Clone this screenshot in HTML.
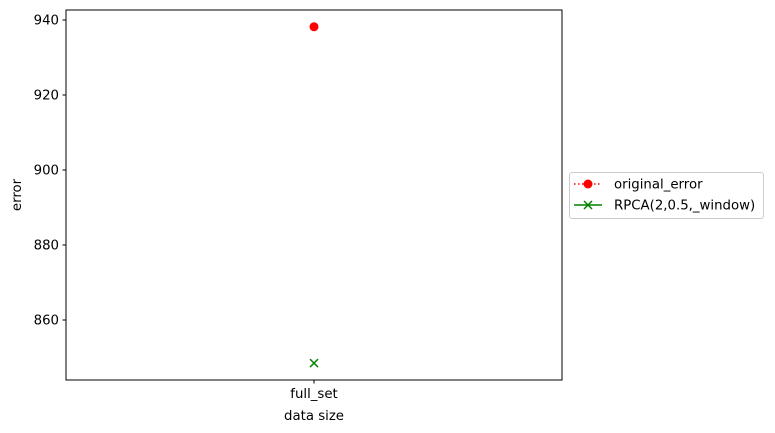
<!DOCTYPE html>
<html><head><meta charset="utf-8"><style>
body{margin:0;background:#fff;}
svg{display:block;font-family:"DejaVu Sans","Liberation Sans",sans-serif;}
</style></head><body>
<svg id="chart" width="775" height="433" viewBox="0 0 775 433"></svg>
<script>
const categories = ["full_set"];
const originalError = [938.2];
const rpcaError = [848.5];
const yTicks = [860, 880, 900, 920, 940];

const NS = "http://www.w3.org/2000/svg";
const svg = document.getElementById("chart");
const L = 66, R = 562, T = 10, B = 380;
const yMin = 844.0, yMax = 942.67;
const y = v => B - (v - yMin) / (yMax - yMin) * (B - T);
const x = i => L + (i + 0.5) * (R - L) / categories.length;

function el(tag, attrs, parent) {
  const e = document.createElementNS(NS, tag);
  for (const k in attrs) e.setAttribute(k, attrs[k]);
  (parent || svg).appendChild(e);
  return e;
}

const frame = el("rect", {x: L, y: T, width: R - L, height: B - T, fill: "none", stroke: "#000", "stroke-width": 1});



yTicks.forEach(v => {
  const g = el("g", {});
  
  
  el("line", {x1: L - 3.5, x2: L, y1: y(v), y2: y(v), stroke: "#000"}, g);
  const t = el("text", {x: L - 7, y: y(v) + 4.5, "text-anchor": "end", "font-size": 13.3}, g);
  t.textContent = v;
});

categories.forEach((c, i) => {
  const g = el("g", {});
  
  
  el("line", {x1: x(i), x2: x(i), y1: B, y2: B + 3.5, stroke: "#000"}, g);
  const t = el("text", {x: x(i), y: B + 18, "text-anchor": "middle", "font-size": 13.3}, g);
  t.textContent = c;
});

const xl = el("text", {x: (L + R) / 2, y: 420, "text-anchor": "middle", "font-size": 13.3});
xl.textContent = "data size";


const yl = el("text", {x: 0, y: 0, transform: `translate(21,${(T + B) / 2}) rotate(-90)`, "text-anchor": "middle", "font-size": 13.3});
yl.textContent = "error";



originalError.forEach((v, i) => {
  const p = el("circle", {cx: x(i), cy: y(v), r: 4.5, fill: "#ff0000"});
  
  
});
rpcaError.forEach((v, i) => {
  const g = el("g", {stroke: "#008000", "stroke-width": 1.5});
  
  
  const cx = x(i), cy = y(v);
  el("line", {x1: cx - 4, y1: cy - 4, x2: cx + 4, y2: cy + 4}, g);
  el("line", {x1: cx - 4, y1: cy + 4, x2: cx + 4, y2: cy - 4}, g);
});

// legend
const lg = el("g", {});


el("rect", {x: 569.5, y: 172.5, width: 194, height: 46, rx: 2.5, fill: "#fff", stroke: "#ccc"}, lg);
const e1 = el("g", {}, lg);


el("line", {x1: 574, x2: 602, y1: 184, y2: 184, stroke: "#ff0000", "stroke-width": 1.5, "stroke-dasharray": "1.5,2.5"}, e1);
el("circle", {cx: 588, cy: 184, r: 4.5, fill: "#ff0000"}, e1);
const t1 = el("text", {x: 614, y: 188.5, "font-size": 13.3}, e1);
t1.textContent = "original_error";
const e2 = el("g", {}, lg);


el("line", {x1: 574, x2: 602, y1: 205, y2: 205, stroke: "#008000", "stroke-width": 1.5}, e2);
el("line", {x1: 584, y1: 201, x2: 592, y2: 209, stroke: "#008000", "stroke-width": 1.5}, e2);
el("line", {x1: 584, y1: 209, x2: 592, y2: 201, stroke: "#008000", "stroke-width": 1.5}, e2);
const t2 = el("text", {x: 614, y: 209.5, "font-size": 13.3}, e2);
t2.textContent = "RPCA(2,0.5,_window)";
</script>
</body></html>
